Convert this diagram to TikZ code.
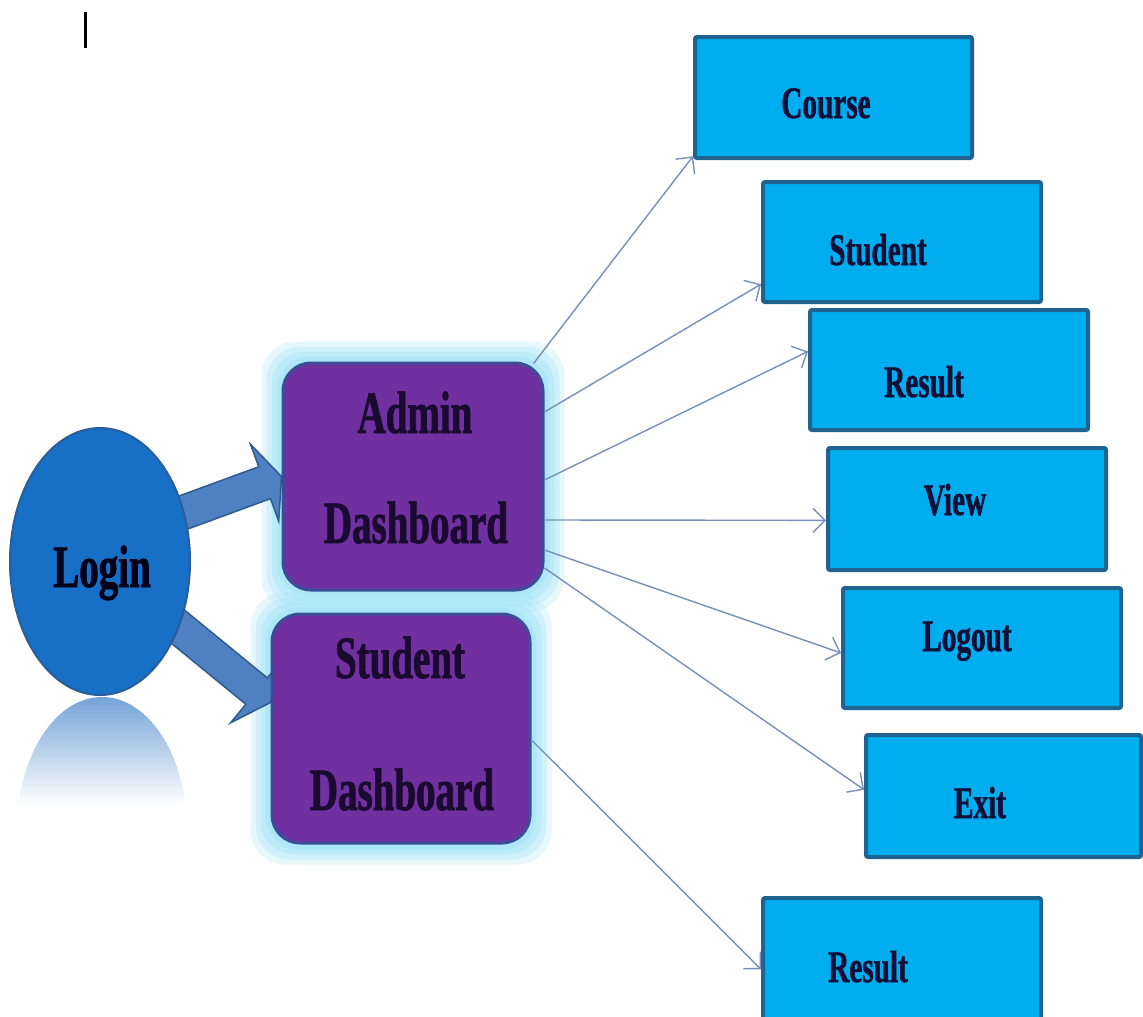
\documentclass[tikz,border=0pt]{standalone}
\usepackage{fontspec}
\newfontfamily\condfont[FakeStretch=0.65, BoldFeatures={FakeBold=1.2}]{Liberation Serif}
\usetikzlibrary{arrows.meta,calc,shapes.geometric,backgrounds}
\definecolor{loginfill}{HTML}{176FC6}
\definecolor{logindraw}{HTML}{2B5E98}
\definecolor{reflcol}{HTML}{5C93D0}
\definecolor{fatfill}{HTML}{4E80C2}
\definecolor{fatdraw}{HTML}{2F5C8F}
\definecolor{dashfill}{HTML}{7030A0}
\definecolor{dashdraw}{HTML}{3C4D98}
\definecolor{glowcol}{HTML}{A0E4F8}
\definecolor{boxfill}{HTML}{00AEEF}
\definecolor{boxdraw}{HTML}{1F6390}
\definecolor{linkcol}{HTML}{7890B8}
\definecolor{txtdark}{HTML}{101038}
\definecolor{dashtxt}{HTML}{1A0A30}
\begin{document}
\begin{tikzpicture}[x=1pt,y=-1pt,
  menubox/.style={draw=boxdraw, fill=boxfill, line width=4pt, rounded corners=2pt, inner sep=0pt},
  dashbox/.style={draw=dashdraw, fill=dashfill, line width=3pt, rounded corners=28pt, inner sep=0pt},
  boxlabel/.style={font=\condfont\bfseries\fontsize{45}{50}\selectfont, text=txtdark, anchor=base, inner sep=0pt},
  dashlabel/.style={font=\condfont\bfseries\fontsize{60}{66}\selectfont, text=dashtxt, anchor=base, inner sep=0pt},
  link/.style={draw=linkcol, line width=1.4pt, -{Straight Barb[length=12pt,width=24pt]}},
  fatarrow/.style={fill=fatfill, draw=fatdraw, line width=1.5pt, line join=miter},
]
\useasboundingbox (0,0) rectangle (1143,1017);
\clip (0,0) rectangle (1143,1017);

% stray cursor bar
\draw[line width=3pt] (85,12) -- (85,48);

% reflection of the login ellipse
\begin{scope}
  \clip (102,830) ellipse [x radius=85pt, y radius=133pt];
  \shade[top color=reflcol!85!white, bottom color=white] (15,697) rectangle (195,805);
\end{scope}

% login
\node[ellipse, draw=logindraw, fill=loginfill, line width=2pt, minimum width=180pt, minimum height=267pt, inner sep=0pt] (login) at (100,561.5) {};
\node[dashlabel, text=black!90!blue] (logintxt) at (102,587) {Login};

% dashboards
\node[dashbox, minimum width=260pt, minimum height=227pt] (admin) at (413,476.5) {};
\node[dashbox, minimum width=258pt, minimum height=229pt] (sdash) at (401,728.5) {};
\node[dashlabel] (admint1) at (415,433) {Admin};
\node[dashlabel] (admint2) at (416,543) {Dashboard};
\node[dashlabel] (sdasht1) at (400,678) {Student};
\node[dashlabel] (sdasht2) at (402,810) {Dashboard};

% menu boxes
\node[menubox, minimum width=277pt, minimum height=121pt] (course) at (833.5,97.5) {};
\node[menubox, minimum width=278pt, minimum height=120pt] (student) at (902,242) {};
\node[menubox, minimum width=278pt, minimum height=120pt] (result) at (949,370) {};
\node[menubox, minimum width=278pt, minimum height=122pt] (view) at (967,509) {};
\node[menubox, minimum width=278pt, minimum height=120pt] (logout) at (982,648) {};
\node[menubox, minimum width=275pt, minimum height=122pt] (exit) at (1003.5,796) {};
\node[menubox, minimum width=278pt, minimum height=127pt] (result2) at (902,961.5) {};

\node[boxlabel] (coursetxt) at (826,118) {Course};
\node[boxlabel] (studenttxt) at (878,265) {Student};
\node[boxlabel] (resulttxt) at (924,397) {Result};
\node[boxlabel] (viewtxt) at (955,515) {View};
\node[boxlabel] (logouttxt) at (967,651) {Logout};
\node[boxlabel] (exittxt) at (980,818) {Exit};
\node[boxlabel] (result2txt) at (868,982) {Result};

% background: glow and fat arrows
\begin{pgfonlayer}{background}
  \fill[white] (0,0) rectangle (1143,1017);
  \foreach \g/\op in {20/0.25,15/0.32,10/0.4,5/0.5} {
    \fill[glowcol, opacity=\op, rounded corners=34pt] ($(admin.north west)+(-\g,-\g)$) rectangle ($(admin.south east)+(\g,\g)$);
    \fill[glowcol, opacity=\op, rounded corners=34pt] ($(sdash.north west)+(-\g,-\g)$) rectangle ($(sdash.south east)+(\g,\g)$);
  }
  \coordinate (u1) at ($(login.center)!0.85!(login.32)$);
  \coordinate (u2) at (admin.west);
  \coordinate (uh) at ($(u2)!18pt!(u1)$);
  \draw[fatarrow] ($(u1)!17pt!90:(u2)$) -- ($(uh)!17pt!90:(u2)$) -- ($(uh)!41pt!90:(u2)$) -- (u2)
    -- ($(uh)!41pt!-90:(u2)$) -- ($(uh)!17pt!-90:(u2)$) -- ($(u1)!17pt!-90:(u2)$) -- cycle;
  \coordinate (l1) at ($(login.center)!0.85!(login.-40)$);
  \coordinate (l2) at ($(sdash.west)+(0,-26)$);
  \coordinate (lh) at ($(l2)!18pt!(l1)$);
  \draw[fatarrow] ($(l1)!17pt!90:(l2)$) -- ($(lh)!17pt!90:(l2)$) -- ($(lh)!41pt!90:(l2)$) -- (l2)
    -- ($(lh)!41pt!-90:(l2)$) -- ($(lh)!17pt!-90:(l2)$) -- ($(l1)!17pt!-90:(l2)$) -- cycle;
\end{pgfonlayer}

% links
\draw[link] ($(admin.north east)+(-11,2)$) -- ($(course.north west)!0.97!(course.south west)$);
\draw[link] ($(admin.east)+(0,-64.5)$) -- ($(student.north west)!0.84!(student.south west)$);
\draw[link] ($(admin.east)+(0,3.5)$) -- ($(result.north west)!0.35!(result.south west)$);
\draw[link] ($(admin.east)+(0,43.5)$) -- ($(view.north west)!0.59!(view.south west)$);
\draw[link] ($(admin.east)+(0,73.5)$) -- ($(logout.north west)!0.54!(logout.south west)$);
\draw[link] ($(admin.east)+(0,91.5)$) -- ($(exit.north west)!0.45!(exit.south west)$);
\draw[link] ($(sdash.east)+(0,11.5)$) -- ($(result2.north west)!0.56!(result2.south west)$);
\end{tikzpicture}
\end{document}
